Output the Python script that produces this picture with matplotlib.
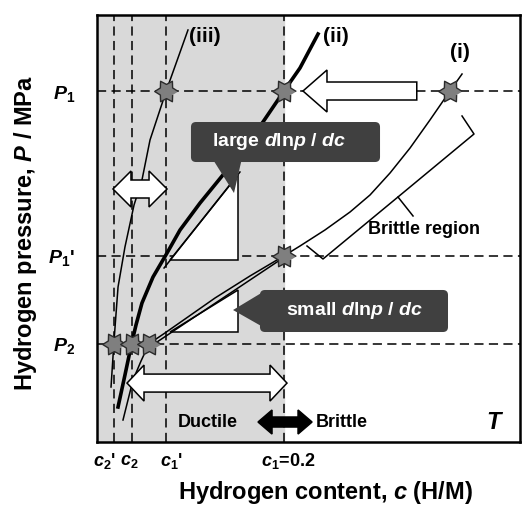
import numpy as np
import matplotlib.pyplot as plt
from matplotlib.patches import Polygon, FancyBboxPatch

plt.rcParams['font.family'] = 'Liberation Sans'
plt.rcParams['font.weight'] = 'bold'
plt.rcParams['axes.labelweight'] = 'bold'
plt.rcParams['mathtext.fontset'] = 'custom'
plt.rcParams['mathtext.rm'] = 'Liberation Sans:bold'
plt.rcParams['mathtext.it'] = 'Liberation Sans:italic:bold'
plt.rcParams['mathtext.bf'] = 'Liberation Sans:bold'

# characteristic hydrogen contents (H/M) and pressures (arb. units)
c2p, c2, c1p, c1 = 0.018, 0.037, 0.074, 0.2
P2, P1p, P1 = 2.30, 4.36, 8.22
c_tick_labels = ["$c_2$'", "$c_2$", "$c_1$'", "$c_1$=0.2"]
p_tick_labels = ["$P_2$", "$P_1$'", "$P_1$"]

# isotherm (iii)
c_iii = [0.0973, 0.074, 0.0567, 0.0481, 0.0396, 0.0299, 0.0225, 0.0193, 0.018, 0.0150]
p_iii = [9.649, 8.22, 7.073, 6.136, 5.550, 4.567, 3.630, 2.693, 2.30, 1.288]
# isotherm (ii)
c_ii = [0.2364, 0.2171, 0.2, 0.1775, 0.1529, 0.139, 0.1102, 0.0888, 0.0749,
        0.0599, 0.0481, 0.0417, 0.037, 0.0299, 0.0225]
p_ii = [9.555, 8.759, 8.22, 7.494, 6.838, 6.370, 5.597, 4.965, 4.426,
        3.864, 3.255, 2.740, 2.30, 1.569, 0.820]
# isotherm (i)
c_i = [0.3904, 0.3775, 0.3561, 0.3348, 0.3134, 0.2920, 0.2706, 0.2438, 0.2171, 0.2,
       0.1636, 0.1262, 0.0941, 0.0727, 0.0556, 0.0471, 0.0385, 0.0278]
p_i = [8.618, 8.22, 7.541, 6.885, 6.300, 5.785, 5.386, 4.965, 4.590, 4.36,
       3.888, 3.372, 2.880, 2.553, 2.30, 1.897, 1.452, 0.515]

# crossing points (stars)
star_c = [c1p, c1, 0.3775, c1, c2p, c2, 0.0556]
star_p = [P1, P1, P1, P1p, P2, P2, P2]

# tangent lines and slope triangles
big_tan_c = [0.0717, 0.1529]
big_tan_p = [4.075, 6.323]
big_tri_c = [0.0781, 0.1508, 0.1508]
big_tri_p = [4.262, 4.262, 6.253]
small_tan_c = [0.0642, 0.1989]
small_tan_p = [2.342, 4.309]
small_tri_c = [0.0781, 0.1508, 0.1508]
small_tri_p = [2.576, 2.576, 3.560]

# brace along the brittle region of (i)
brace1_c = [0.3904, 0.4032, 0.3219, 0.3380]
brace1_p = [7.635, 7.213, 5.738, 5.293]
brace2_c = [0.3219, 0.2417, 0.2246]
brace2_p = [5.738, 4.286, 4.590]

XMAX, YMAX = 0.4524, 10.0
px_x = XMAX / 423.0   # data per pixel
px_y = YMAX / 427.0

fig = plt.figure(figsize=(5.22, 5.08), dpi=100)
ax = fig.add_axes([97 / 522, 66 / 508, 423 / 522, 427 / 508])
ax.set_xlim(0, XMAX)
ax.set_ylim(0, YMAX)

ax.axvspan(0, c1, color='#d9d9d9', zorder=0)

dash = (0, (6, 3.5))
for c in [c2p, c2, c1p, c1]:
    ax.axvline(c, color='black', lw=1.1, ls=dash, zorder=1)
for p in [P2, P1p, P1]:
    ax.axhline(p, color='black', lw=1.1, ls=dash, zorder=1)

ax.add_patch(Polygon(list(zip(big_tri_c, big_tri_p)), closed=True, fc='white',
                     ec='black', lw=1.1, zorder=2))
ax.add_patch(Polygon(list(zip(small_tri_c, small_tri_p)), closed=True, fc='white',
                     ec='black', lw=1.1, zorder=2))
ax.plot(big_tan_c, big_tan_p, color='black', lw=1.1, zorder=3)
ax.plot(small_tan_c, small_tan_p, color='black', lw=1.1, zorder=3)

ax.plot(c_iii, p_iii, color='black', lw=1.1, zorder=3)
ax.plot(c_ii, p_ii, color='black', lw=2.6, zorder=3)
ax.plot(c_i, p_i, color='black', lw=1.1, zorder=3)

ax.plot(brace1_c, brace1_p, color='black', lw=1.1, zorder=3)
ax.plot(brace2_c, brace2_p, color='black', lw=1.1, zorder=3)


def fat_arrow(x0, x1, y, body, head, head_len, both=False, fc='white'):
    s = np.sign(x1 - x0)
    hb1 = x1 - s * head_len
    if both:
        hb0 = x0 + s * head_len
        pts = [(x0, y), (hb0, y + head), (hb0, y + body), (hb1, y + body),
               (hb1, y + head), (x1, y), (hb1, y - head), (hb1, y - body),
               (hb0, y - body), (hb0, y - head)]
    else:
        pts = [(x0, y + body), (hb1, y + body), (hb1, y + head), (x1, y),
               (hb1, y - head), (hb1, y - body), (x0, y - body)]
    ax.add_patch(Polygon(pts, closed=True, fc=fc, ec='black', lw=1.1, zorder=5))


fat_arrow(0.342, 0.2203, P1, 9 * px_y, 21 * px_y, 24 * px_x)
fat_arrow(0.0171, 0.0749, 5.925, 9 * px_y, 18 * px_y, 18 * px_x, both=True)
fat_arrow(0.0321, 0.2032, 1.38, 9 * px_y, 18 * px_y, 17 * px_x, both=True)
fat_arrow(0.1722, 0.2300, 0.468, 5 * px_y, 12 * px_y, 14 * px_x, both=True, fc='black')

# six-pointed star marker
ang = np.deg2rad(np.arange(12) * 30.0)
rad = np.where(np.arange(12) % 2 == 0, 1.0, 0.6)
hexagram = np.column_stack([rad * np.cos(ang), rad * np.sin(ang)])
ax.plot(star_c, star_p, ls='none', marker=hexagram, ms=17, mfc='#7f7f7f',
        mec='#2b2b2b', mew=1, zorder=7)

# callouts
aspect = px_y / px_x
box_kw = dict(boxstyle='round,pad=0,rounding_size=%f' % (5 * px_x),
              mutation_aspect=aspect, fc='#404040', ec='none', zorder=6)
ax.add_patch(FancyBboxPatch((0.1005, 6.557), 0.2022, 0.937, **box_kw))
ax.add_patch(Polygon([(0.123, 6.65), (0.1551, 6.65), (0.1465, 5.831)], closed=True,
                     fc='#404040', ec='none', zorder=6))
ax.text(0.1947, 7.026, 'large $d$ln$p$ / $dc$', color='white', fontsize=14,
        ha='center', va='center', zorder=8)
ax.add_patch(FancyBboxPatch((0.1743, 2.576), 0.2011, 0.984, **box_kw))
ax.add_patch(Polygon([(0.1775, 3.513), (0.1455, 3.091), (0.1775, 2.693)], closed=True,
                     fc='#404040', ec='none', zorder=6))
ax.text(0.2754, 3.068, 'small $d$ln$p$ / $dc$', color='white', fontsize=14,
        ha='center', va='center', zorder=8)

# labels
ax.text(0.1155, 9.49, '(iii)', fontsize=15, ha='center', va='center', zorder=8)
ax.text(0.2556, 9.49, '(ii)', fontsize=15, ha='center', va='center', zorder=8)
ax.text(0.3882, 9.13, '(i)', fontsize=15, ha='center', va='center', zorder=8)
ax.text(0.3497, 4.965, 'Brittle region', fontsize=13, ha='center', va='center')
ax.text(0.1187, 0.468, 'Ductile', fontsize=13, ha='center', va='center')
ax.text(0.2620, 0.468, 'Brittle', fontsize=13, ha='center', va='center')
ax.text(0.4257, 0.468, '$T$', fontsize=17, ha='center', va='center')

ax.set_xticks([])
label_x = [c2p - 0.010, c2 - 0.002, c1p + 0.006, c1 + 0.004]
for x, lab in zip(label_x, c_tick_labels):
    ax.text(x, -0.045, lab, fontsize=13, ha='center', va='center',
            transform=ax.get_xaxis_transform())

ax.set_yticks([P2, P1p, P1], p_tick_labels, fontsize=14)
ax.tick_params(axis='y', length=0, pad=16)

ax.set_xlabel('Hydrogen content, $c$ (H/M)', fontsize=17)
ax.xaxis.set_label_coords(0.54, -0.087)
ax.set_ylabel('Hydrogen pressure, $P$ / MPa', fontsize=17)
ax.yaxis.set_label_coords(-0.136, 0.49)

for sp in ax.spines.values():
    sp.set_linewidth(1.8)
    sp.set_zorder(9)

fig.savefig('out.png', dpi=100)
